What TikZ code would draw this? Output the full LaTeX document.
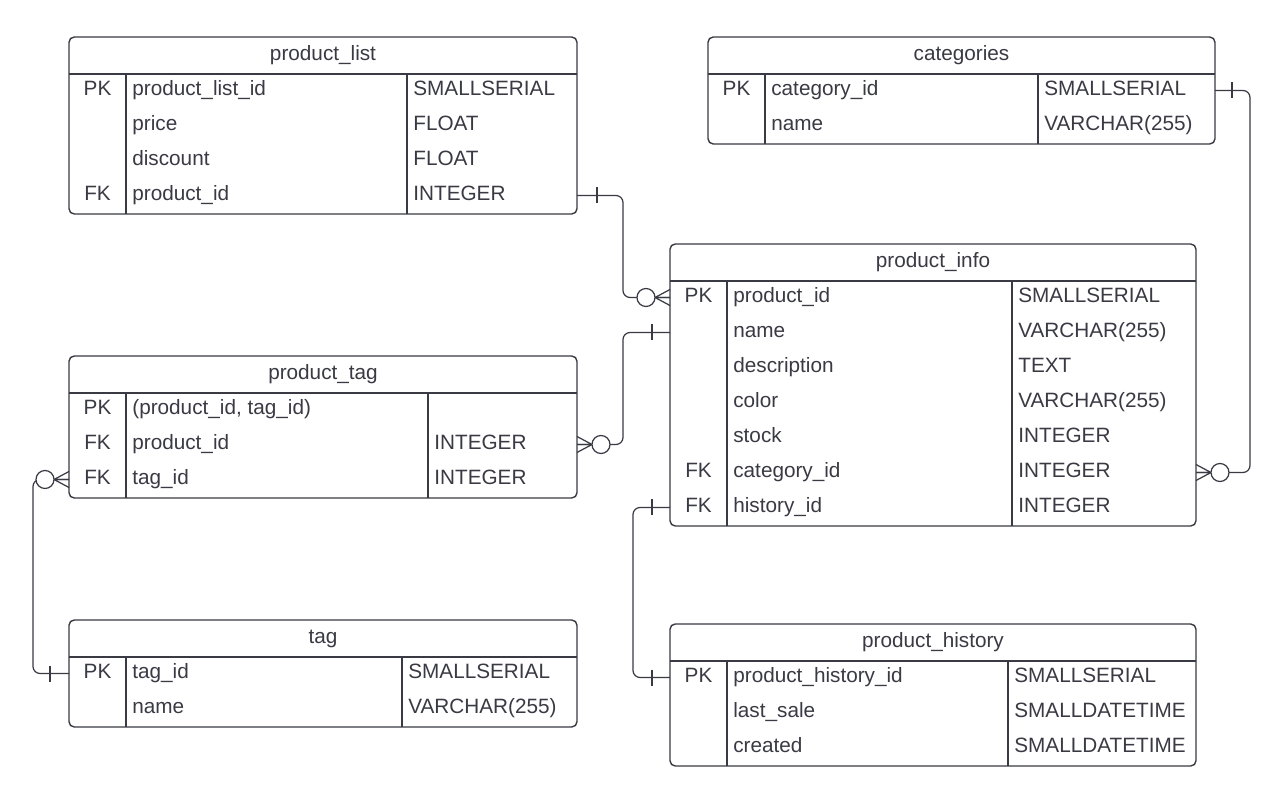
\documentclass[tikz,border=0pt]{standalone}
\usepackage{fontspec}
\setmainfont{Liberation Sans}
\usetikzlibrary{calc}
\definecolor{ink}{HTML}{3A3A44}
\tikzset{
  tbl/.style={draw=ink,line width=0.8pt,rounded corners=3pt},
  sep/.style={draw=ink,line width=0.8pt},
  conn/.style={draw=ink,line width=0.7pt},
  cell/.style={text=ink,font=\fontsize{11.8}{14}\selectfont,inner sep=0pt,
    text height=1.55ex,text depth=0.45ex},
}
% #1 name, #2 left, #3 top, #4 right, #5 key column, #6 type column, #7 rows, #8 title, #9 rows list
\newcommand\erdtable[9]{
  \draw[tbl] (#2,#3) rectangle (#4,#3+37+35*#7);
  \draw[sep] (#2,#3+37) -- (#4,#3+37);
  \draw[sep] (#5,#3+37) -- (#5,#3+37+35*#7);
  \draw[sep] (#6,#3+37) -- (#6,#3+37+35*#7);
  \node[cell] (#1-title) at ({(#2+#4)/2},#3+18) {#8};
  \foreach \k/\n/\t [count=\i] in {#9} {
    \node[cell] (#1-k\i) at ({(#2+#5)/2},#3+36+17.5+35*\i-35) {\k};
    \node[cell,anchor=west] (#1-n\i) at (#5+6,#3+36+17.5+35*\i-35) {\n};
    \node[cell,anchor=west] (#1-t\i) at (#6+6,#3+36+17.5+35*\i-35) {\t};
    \coordinate (#1-l\i) at (#2,#3+36+17.5+35*\i-35);
    \coordinate (#1-r\i) at (#4,#3+36+17.5+35*\i-35);
  }
}
% one mark, #2 = side (1 right, -1 left), #3 = distance
\newcommand\onebar[3]{\draw[conn] ($(#1)+(#2*#3,-8)$) -- ++(0,16);}
% zero or many mark
\newcommand\manyopt[2]{
  \draw[conn] ($(#1)+(#2*15,0)$) -- ($(#1)+(0,-8)$)
    ($(#1)+(#2*15,0)$) -- (#1)
    ($(#1)+(#2*15,0)$) -- ($(#1)+(0,8)$);
  \draw[conn,fill=white] ($(#1)+(#2*24,0)$) circle[radius=0.18cm];
}
\begin{document}
\begin{tikzpicture}[x=0.02cm,y=-0.02cm]
  \useasboundingbox[fill=white] (0,0) rectangle (1286,804);

  \erdtable{product_list}{69}{37}{577}{126}{407}{4}{product\_list}
    {PK/product\_list\_id/SMALLSERIAL, {}/price/FLOAT, {}/discount/FLOAT, FK/product\_id/INTEGER}
  \erdtable{categories}{708}{37}{1215}{765}{1038}{2}{categories}
    {PK/category\_id/SMALLSERIAL, {}/name/VARCHAR(255)}
  \erdtable{product_info}{670}{244}{1196}{727}{1012}{7}{product\_info}
    {PK/product\_id/SMALLSERIAL, {}/name/VARCHAR(255), {}/description/TEXT,
     {}/color/VARCHAR(255), {}/stock/INTEGER, FK/category\_id/INTEGER, FK/history\_id/INTEGER}
  \erdtable{product_tag}{69}{356}{577}{126}{428}{3}{product\_tag}
    {PK/{(product\_id, tag\_id)}/{}, FK/product\_id/INTEGER, FK/tag\_id/INTEGER}
  \erdtable{tag}{69}{620}{577}{126}{402}{2}{tag}
    {PK/tag\_id/SMALLSERIAL, {}/name/VARCHAR(255)}
  \erdtable{product_history}{670}{624}{1196}{727}{1008}{3}{product\_history}
    {PK/product\_history\_id/SMALLSERIAL, {}/last\_sale/SMALLDATETIME, {}/created/SMALLDATETIME}

  % relations
  \begin{scope}[rounded corners=4pt]
    \draw[conn] (product_list-r4) -| ($(product_info-l1)+(-47,0)$) -- (product_info-l1);
    \draw[conn] (categories-r1) -| ($(product_info-r6)+(54,0)$) -- (product_info-r6);
    \draw[conn] (product_info-l2) -| ($(product_tag-r2)+(46,0)$) -- (product_tag-r2);
    \draw[conn] (product_tag-l3) -| ($(tag-l1)+(-36,0)$) -- (tag-l1);
    \draw[conn] (product_info-l7) -| ($(product_history-l1)+(-37,0)$) -- (product_history-l1);
  \end{scope}

  \onebar{product_list-r4}{1}{20}
  \manyopt{product_info-l1}{-1}
  \onebar{categories-r1}{1}{17}
  \manyopt{product_info-r6}{1}
  \onebar{product_info-l2}{-1}{18}
  \manyopt{product_tag-r2}{1}
  \manyopt{product_tag-l3}{-1}
  \onebar{tag-l1}{-1}{19}
  \onebar{product_info-l7}{-1}{18}
  \onebar{product_history-l1}{-1}{18}
\end{tikzpicture}
\end{document}
